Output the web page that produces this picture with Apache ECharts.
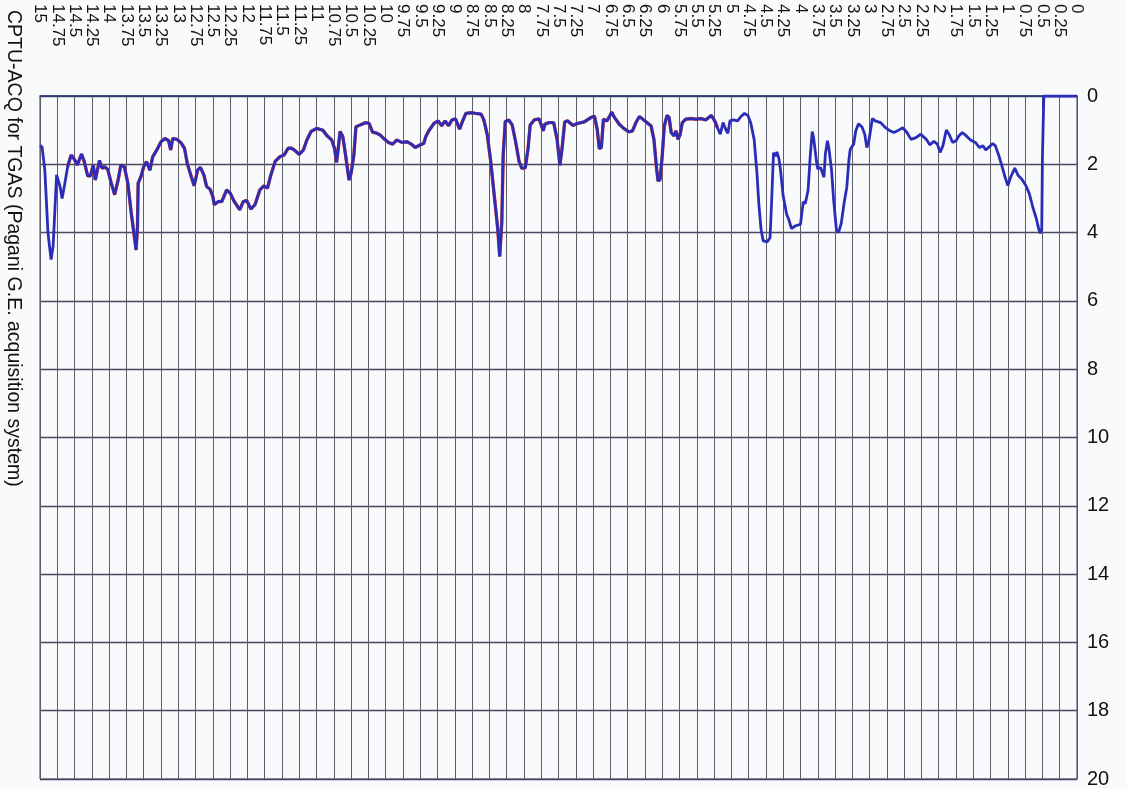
<!DOCTYPE html>
<html>
<head>
<meta charset="utf-8">
<script src="https://cdn.jsdelivr.net/npm/echarts@6/dist/echarts.min.js"></script>
<style>
  html, body { margin: 0; padding: 0; background: #f9fafc; }
  #chart { width: 1127px; height: 789px; }
</style>
</head>
<body>
<div id="chart"></div>
<script>
// Depth ticks along the top axis (m), read from 15 down to 0
const depthTicks = [15, 14.75, 14.5, 14.25, 14, 13.75, 13.5, 13.25, 13, 12.75, 12.5, 12.25, 12,
  11.75, 11.5, 11.25, 11, 10.75, 10.5, 10.25, 10, 9.75, 9.5, 9.25, 9, 8.75, 8.5, 8.25, 8,
  7.75, 7.5, 7.25, 7, 6.75, 6.5, 6.25, 6, 5.75, 5.5, 5.25, 5, 4.75, 4.5, 4.25, 4,
  3.75, 3.5, 3.25, 3, 2.75, 2.5, 2.25, 2, 1.75, 1.5, 1.25, 1, 0.75, 0.5, 0.25, 0];

// Value ticks on the right axis
const valueTicks = [0, 2, 4, 6, 8, 10, 12, 14, 16, 18, 20];

const yAxisTitle = 'CPTU-ACQ for TGAS (Pagani G.E. acquisition system)';

// Recorded trace: [depth, reading]
const profile = [
  [15, 1.45], [14.97, 1.49], [14.93, 2.17], [14.885, 4.0], [14.84, 4.79], [14.81, 4.4],
  [14.76, 2.31], [14.71, 2.65], [14.68, 3.0], [14.64, 2.55], [14.6, 2.07], [14.55, 1.73],
  [14.51, 1.83], [14.46, 2.02], [14.4, 1.7], [14.36, 1.92], [14.31, 2.34], [14.27, 2.34],
  [14.23, 2.02], [14.2, 2.46], [14.14, 1.89], [14.1, 2.12], [14.07, 2.07], [14.02, 2.15],
  [13.97, 2.55], [13.92, 2.89], [13.87, 2.46], [13.83, 2.02], [13.78, 2.07], [13.73, 2.55],
  [13.68, 3.43], [13.63, 4.2], [13.61, 4.51], [13.59, 3.82], [13.58, 2.55], [13.54, 2.36],
  [13.5, 2.07], [13.46, 1.92], [13.41, 2.17], [13.37, 1.78], [13.31, 1.58], [13.25, 1.34],
  [13.19, 1.24], [13.14, 1.31], [13.11, 1.58], [13.08, 1.24], [13.02, 1.27], [12.96, 1.37],
  [12.91, 1.53], [12.87, 1.97], [12.82, 2.31], [12.77, 2.63], [12.72, 2.17], [12.68, 2.09],
  [12.63, 2.31], [12.59, 2.65], [12.54, 2.73], [12.5, 2.94], [12.48, 3.18], [12.42, 3.09],
  [12.37, 3.09], [12.3, 2.75], [12.25, 2.84], [12.19, 3.09], [12.11, 3.33], [12.06, 3.09],
  [12.01, 3.06], [11.95, 3.31], [11.89, 3.18], [11.82, 2.75], [11.76, 2.63], [11.71, 2.7],
  [11.66, 2.31], [11.6, 1.92], [11.53, 1.78], [11.47, 1.73], [11.41, 1.53], [11.36, 1.53],
  [11.31, 1.6], [11.25, 1.71], [11.19, 1.58], [11.14, 1.29], [11.08, 1.04], [11.0, 0.95],
  [10.91, 1.0], [10.85, 1.16], [10.78, 1.29], [10.74, 1.53], [10.71, 1.94], [10.68, 1.43],
  [10.66, 1.04], [10.62, 1.19], [10.58, 1.73], [10.53, 2.46], [10.5, 2.26], [10.46, 1.73],
  [10.43, 0.9], [10.37, 0.85], [10.29, 0.78], [10.24, 0.8], [10.19, 1.06], [10.13, 1.09],
  [10.08, 1.14], [10.03, 1.24], [9.96, 1.36], [9.9, 1.41], [9.84, 1.29], [9.76, 1.36],
  [9.69, 1.34], [9.63, 1.41], [9.57, 1.51], [9.5, 1.43], [9.45, 1.39], [9.42, 1.19],
  [9.37, 1.0], [9.3, 0.8], [9.24, 0.73], [9.19, 0.87], [9.14, 0.73], [9.09, 0.87],
  [9.04, 0.7], [8.99, 0.67], [8.93, 0.97], [8.89, 0.75], [8.84, 0.51], [8.77, 0.49],
  [8.7, 0.51], [8.62, 0.53], [8.58, 0.7], [8.53, 1.14], [8.48, 1.92], [8.43, 2.9],
  [8.38, 3.87], [8.35, 4.7], [8.32, 3.68], [8.3, 1.73], [8.27, 0.75], [8.22, 0.7],
  [8.17, 0.85], [8.12, 1.34], [8.07, 1.92], [8.03, 2.12], [7.98, 2.1], [7.94, 1.53],
  [7.91, 0.85], [7.85, 0.7], [7.78, 0.67], [7.72, 1.02], [7.7, 0.83], [7.64, 0.78],
  [7.57, 0.78], [7.52, 1.27], [7.48, 2.03], [7.45, 1.56], [7.41, 0.76], [7.37, 0.73],
  [7.29, 0.86], [7.22, 0.8], [7.13, 0.76], [7.03, 0.63], [6.98, 0.59], [6.94, 0.98],
  [6.91, 1.54], [6.88, 1.51], [6.85, 0.68], [6.8, 0.73], [6.76, 0.59], [6.73, 0.47],
  [6.69, 0.63], [6.62, 0.83], [6.55, 0.96], [6.48, 1.05], [6.43, 1.02], [6.38, 0.78],
  [6.33, 0.6], [6.28, 0.68], [6.22, 0.78], [6.16, 0.88], [6.12, 1.27], [6.08, 2.15],
  [6.06, 2.49], [6.03, 2.44], [6.0, 1.76], [5.97, 0.88], [5.93, 0.57], [5.9, 0.63],
  [5.87, 1.07], [5.83, 1.17], [5.8, 1.02], [5.77, 1.27], [5.74, 1.12], [5.71, 0.78],
  [5.66, 0.68], [5.59, 0.66], [5.51, 0.68], [5.44, 0.66], [5.37, 0.7], [5.29, 0.57],
  [5.24, 0.73], [5.2, 0.93], [5.16, 1.12], [5.12, 0.78], [5.08, 0.98], [5.05, 1.09],
  [5.02, 0.73], [4.97, 0.7], [4.91, 0.73], [4.86, 0.6], [4.81, 0.51], [4.76, 0.57],
  [4.72, 0.78], [4.67, 1.27], [4.63, 2.24], [4.6, 3.22], [4.57, 3.9], [4.54, 4.24],
  [4.48, 4.27], [4.44, 4.15], [4.42, 3.22], [4.39, 1.66], [4.36, 1.76], [4.34, 1.64],
  [4.31, 1.85], [4.29, 2.15], [4.25, 2.93], [4.2, 3.46], [4.17, 3.61], [4.13, 3.88],
  [4.07, 3.8], [4.0, 3.76], [3.96, 3.1], [3.93, 3.15], [3.89, 2.76], [3.86, 1.8],
  [3.83, 1.04], [3.81, 1.22], [3.77, 1.89], [3.75, 2.14], [3.71, 2.09], [3.69, 2.11],
  [3.66, 2.38], [3.64, 1.7], [3.61, 1.31], [3.59, 1.51], [3.55, 2.18], [3.52, 3.05],
  [3.48, 3.92], [3.45, 4.0], [3.41, 3.73], [3.37, 3.15], [3.33, 2.67], [3.3, 1.89],
  [3.28, 1.56], [3.23, 1.41], [3.2, 1.02], [3.16, 0.81], [3.11, 0.91], [3.07, 1.12],
  [3.04, 1.51], [3.01, 1.31], [2.96, 0.66], [2.92, 0.73], [2.84, 0.78], [2.78, 0.91],
  [2.72, 1.0], [2.65, 1.07], [2.58, 1.0], [2.52, 0.93], [2.46, 1.07], [2.4, 1.27],
  [2.33, 1.22], [2.26, 1.12], [2.18, 1.27], [2.13, 1.43], [2.07, 1.33], [2.02, 1.41],
  [1.98, 1.65], [1.94, 1.46], [1.89, 1.0], [1.85, 1.12], [1.8, 1.36], [1.75, 1.31],
  [1.71, 1.17], [1.66, 1.07], [1.6, 1.17], [1.54, 1.29], [1.47, 1.36], [1.41, 1.51],
  [1.36, 1.46], [1.32, 1.58], [1.27, 1.49], [1.22, 1.39], [1.18, 1.46], [1.13, 1.75],
  [1.08, 2.09], [1.04, 2.38], [1.0, 2.62], [0.96, 2.38], [0.9, 2.11], [0.85, 2.33],
  [0.8, 2.43], [0.74, 2.62], [0.69, 2.86], [0.64, 3.25], [0.59, 3.58], [0.55, 3.92],
  [0.53, 4.02], [0.51, 3.92], [0.5, 1.8], [0.48, 0], [0, 0]
];

// Second channel, visible underneath the main trace over the upper section
const secondChannel = profile.filter(p => p[0] <= 14.6 && p[0] >= 5.2);

const chart = echarts.init(document.getElementById('chart'), null, { renderer: 'canvas' });

chart.setOption({
  backgroundColor: '#f9fafc',
  animation: false,
  grid: {
    left: 40, right: 50, top: 96, bottom: 9,
    show: true, borderColor: '#3a3a55', borderWidth: 1, backgroundColor: 'transparent'
  },
  xAxis: {
    type: 'value',
    position: 'top',
    inverse: true,
    min: 0, max: 15, interval: 0.25,
    axisLine: { show: true, lineStyle: { color: '#2d3a78', width: 1.5 } },
    axisTick: { show: false },
    splitLine: { show: true, lineStyle: { color: '#5e5e6a', width: 1 } },
    // vertical labels reading downward, starting from the top edge
    axisLabel: {
      rotate: -90,
      align: 'left',
      margin: 92,
      fontFamily: 'Liberation Sans, Arial, sans-serif',
      fontSize: 17,
      color: '#111',
      showMinLabel: true,
      showMaxLabel: true,
      formatter: v => {
        const t = depthTicks.find(d => Math.abs(d - v) < 1e-6);
        return t === undefined ? '' : String(t);
      }
    }
  },
  yAxis: {
    type: 'value',
    position: 'right',
    inverse: true,
    min: 0, max: 20, interval: 2,
    axisLine: { show: true, lineStyle: { color: '#555566', width: 1 } },
    axisTick: { show: false },
    splitLine: { show: true, lineStyle: { color: '#4a4660', width: 1.3 } },
    axisLabel: {
      margin: 10,
      fontFamily: 'Liberation Sans, Arial, sans-serif',
      fontSize: 20,
      color: '#111',
      formatter: v => valueTicks.includes(v) ? String(v) : ''
    }
  },
  graphic: [{
    type: 'text',
    left: 3,
    top: 10,
    rotation: -Math.PI / 2,
    style: {
      text: yAxisTitle,
      font: '19.5px "Liberation Sans", Arial, sans-serif',
      fill: '#111'
    }
  }],
  series: [
    {
      type: 'line',
      data: secondChannel,
      showSymbol: false,
      lineStyle: { color: '#e0402a', width: 3.4 },
      z: 2
    },
    {
      type: 'line',
      data: profile,
      showSymbol: false,
      lineStyle: { color: '#2a2db8', width: 2.8 },
      z: 3
    }
  ]
});
</script>
</body>
</html>
